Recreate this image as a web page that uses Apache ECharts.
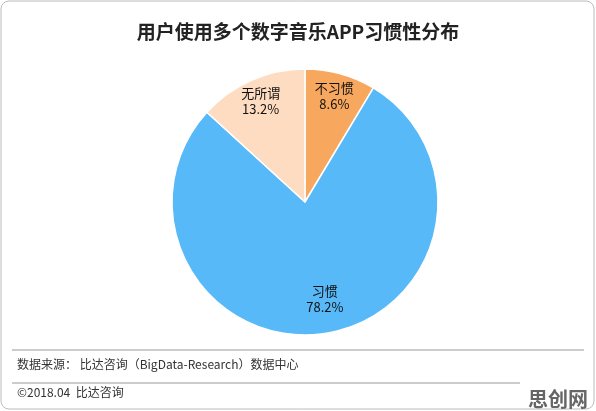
<!DOCTYPE html>
<html><head><meta charset="utf-8">
<script src="https://cdn.jsdelivr.net/npm/echarts@6/dist/echarts.min.js"></script>
<style>html,body{margin:0;padding:0;background:#fff}#c{width:596px;height:411px}</style>
</head><body><div id="c"></div>
<script>
const categories = ['不习惯', '习惯', '无所谓'];
const values = [8.6, 78.2, 13.2];
const colors = ['#F7A85E', '#58B9F9', '#FDDCC1'];
const F = '"Noto Sans CJK SC", sans-serif';
const chart = echarts.init(document.getElementById('c'));
const lbl = { position: 'inside', formatter: p => p.name + '\n' + p.value.toFixed(1) + '%',
  fontFamily: F, fontSize: 13, color: '#111', lineHeight: 16 };
chart.setOption({
  animation: false,
  title: { text: '用户使用多个数字音乐APP习惯性分布', left: 'center', top: 17,
    textStyle: { fontFamily: F, fontSize: 19, fontWeight: 'bold', color: '#222' } },
  graphic: [
    { type: 'rect', shape: { x: 1, y: 1, width: 593, height: 408, r: 8 }, style: { fill: 'none', stroke: '#bbb', lineWidth: 1 } },
    { type: 'line', shape: { x1: 12, y1: 350, x2: 584, y2: 350 }, style: { stroke: '#999', lineWidth: 1 } },
    { type: 'text', left: 17, top: 358, style: { text: '数据来源： 比达咨询（BigData-Research）数据中心', font: '12px ' + F, fill: '#333' } },
    { type: 'line', shape: { x1: 12, y1: 383, x2: 520, y2: 383 }, style: { stroke: '#999', lineWidth: 1 } },
    { type: 'text', left: 17, top: 386, style: { text: '©2018.04  比达咨询', font: '12px ' + F, fill: '#333' } },
    { type: 'text', right: 8, bottom: 2, style: { text: '思创网', font: 'bold 20px ' + F, fill: '#666' } }
  ],
  series: [{
    type: 'pie', center: [305, 202], radius: 133, startAngle: 90, clockwise: true,
    itemStyle: { borderColor: '#fff', borderWidth: 1.5 },
    label: { show: false }, labelLine: { show: false },
    data: categories.map((n, i) => ({ name: n, value: values[i], itemStyle: { color: colors[i] } }))
  }, {
    type: 'pie', center: [305, 202], radius: [78, 136], startAngle: 90, clockwise: true, silent: true,
    itemStyle: { color: 'rgba(0,0,0,0)' }, label: lbl, labelLine: { show: false },
    labelLayout: p => p.dataIndex === 1 ? { dy: -12, dx: 4 } : {},
    data: categories.map((n, i) => ({ name: n, value: values[i] }))
  }]
});
</script></body></html>
